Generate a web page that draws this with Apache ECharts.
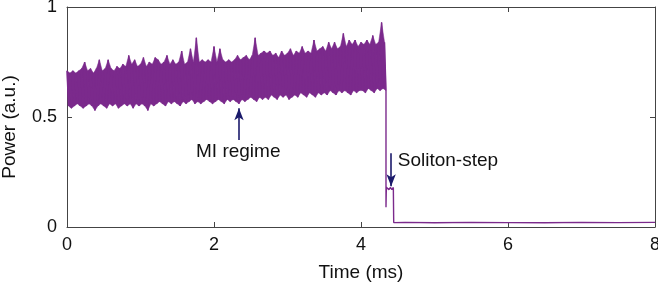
<!DOCTYPE html>
<html>
<head>
<meta charset="utf-8">
<script src="https://cdn.jsdelivr.net/npm/echarts@6/dist/echarts.min.js"></script>
<style>
  html, body { margin: 0; padding: 0; background: #fff; }
  #chart { width: 658px; height: 285px; }
</style>
</head>
<body>
<div id="chart"></div>
<script>
// MI regime band: upper peaks at bandTime, lower dips half a step later
const bandTime = [0, 0.04, 0.08, 0.12, 0.16, 0.2, 0.24, 0.28, 0.32, 0.36,
  0.4, 0.44, 0.48, 0.52, 0.56, 0.6, 0.64, 0.68, 0.72, 0.76,
  0.8, 0.84, 0.88, 0.92, 0.96, 1.0, 1.04, 1.08, 1.12, 1.16,
  1.2, 1.24, 1.28, 1.32, 1.36, 1.4, 1.44, 1.48, 1.52, 1.56,
  1.6, 1.64, 1.68, 1.72, 1.76, 1.8, 1.84, 1.88, 1.92, 1.96,
  2.0, 2.04, 2.08, 2.12, 2.16, 2.2, 2.24, 2.28, 2.32, 2.36,
  2.4, 2.44, 2.48, 2.52, 2.56, 2.6, 2.64, 2.68, 2.72, 2.76,
  2.8, 2.84, 2.88, 2.92, 2.96, 3.0, 3.04, 3.08, 3.12, 3.16,
  3.2, 3.24, 3.28, 3.32, 3.36, 3.4, 3.44, 3.48, 3.52, 3.56,
  3.6, 3.64, 3.68, 3.72, 3.76, 3.8, 3.84, 3.88, 3.92, 3.96,
  4.0, 4.04, 4.08, 4.12, 4.16, 4.2, 4.24, 4.28, 4.32]
const bandUpper = [0.71, 0.70, 0.71, 0.70, 0.71, 0.72, 0.75, 0.71, 0.72, 0.70,
  0.72, 0.76, 0.71, 0.72, 0.76, 0.72, 0.71, 0.73, 0.72, 0.74,
  0.73, 0.78, 0.74, 0.76, 0.73, 0.74, 0.77, 0.73, 0.75, 0.74,
  0.77, 0.76, 0.74, 0.75, 0.78, 0.74, 0.76, 0.74, 0.75, 0.80,
  0.74, 0.75, 0.81, 0.75, 0.86, 0.75, 0.76, 0.75, 0.76, 0.75,
  0.82, 0.75, 0.81, 0.76, 0.75, 0.76, 0.75, 0.76, 0.78, 0.76,
  0.77, 0.78, 0.76, 0.78, 0.86, 0.78, 0.79, 0.80, 0.79, 0.80,
  0.78, 0.79, 0.77, 0.80, 0.78, 0.79, 0.81, 0.78, 0.80, 0.79,
  0.82, 0.79, 0.80, 0.79, 0.85, 0.80, 0.81, 0.82, 0.80, 0.84,
  0.81, 0.84, 0.81, 0.82, 0.88, 0.82, 0.85, 0.83, 0.85, 0.82,
  0.84, 0.83, 0.85, 0.83, 0.87, 0.83, 0.84, 0.93, 0.84]
const bandLower = [0.55, 0.54, 0.55, 0.56, 0.55, 0.54, 0.55, 0.56, 0.55, 0.53,
  0.55, 0.56, 0.55, 0.54, 0.56, 0.55, 0.56, 0.54, 0.55, 0.56,
  0.55, 0.56, 0.54, 0.56, 0.55, 0.56, 0.55, 0.53, 0.56, 0.55,
  0.56, 0.57, 0.56, 0.55, 0.57, 0.56, 0.57, 0.56, 0.55, 0.57,
  0.56, 0.57, 0.58, 0.56, 0.57, 0.56, 0.57, 0.58, 0.57, 0.56,
  0.57, 0.58, 0.57, 0.56, 0.58, 0.57, 0.58, 0.57, 0.56, 0.58,
  0.57, 0.58, 0.59, 0.58, 0.57, 0.59, 0.58, 0.59, 0.58, 0.60,
  0.59, 0.58, 0.60, 0.59, 0.60, 0.58, 0.59, 0.60, 0.59, 0.61,
  0.60, 0.59, 0.61, 0.60, 0.59, 0.61, 0.60, 0.61, 0.60, 0.62,
  0.61, 0.60, 0.62, 0.61, 0.62, 0.61, 0.60, 0.62, 0.61, 0.62,
  0.62, 0.61, 0.63, 0.62, 0.61, 0.63, 0.62, 0.63, 0.62]
// drop, soliton step and the flat tail
const tailTime = [4.34, 4.345, 4.36, 4.38, 4.40, 4.42, 4.44, 4.445, 4.6, 5.0, 5.5, 6.0, 6.5, 7.0, 7.5, 8.0]
const tailPower = [0.09, 0.18, 0.18, 0.17, 0.18, 0.17, 0.18, 0.02, 0.021, 0.019, 0.021, 0.02, 0.019, 0.021, 0.02, 0.021]

const xTicks = [0, 2, 4, 6, 8]
const yTicks = [0, 0.5, 1]

// zigzag trace through the band, then the tail
const trace = []
bandTime.forEach(function (t, i) {
  trace.push([t, bandUpper[i]])
  trace.push([t + 0.02, bandLower[i]])
})
tailTime.forEach(function (t, i) {
  trace.push([t, tailPower[i]])
})
// one item per band segment: [t0, t1] for the custom fill
const bandFill = bandTime.slice(0, -1).map(function (t, i) { return [t, bandTime[i + 1]] })

const purple = '#7b2a8c'
const navy = '#1b1a6b'
const axisColor = '#444'
const font = 'Liberation Sans, Arial, sans-serif'

function renderBand (params, api) {
  const i = params.dataIndex
  const pts = [
    api.coord([bandTime[i], bandUpper[i]]),
    api.coord([bandTime[i + 1], bandUpper[i + 1]]),
    api.coord([bandTime[i + 1] + 0.02, bandLower[i + 1]]),
    api.coord([bandTime[i] + 0.02, bandLower[i]])
  ]
  return {
    type: 'polygon',
    shape: { points: pts },
    style: { fill: purple, stroke: purple, lineWidth: 0.5 }
  }
}

const chart = echarts.init(document.getElementById('chart'))
const boxAxis = {
  type: 'value',
  axisLine: { show: true, onZero: false, lineStyle: { color: axisColor, width: 1 } },
  axisTick: { show: true, inside: true, length: 5, lineStyle: { color: axisColor } },
  splitLine: { show: false }
}
chart.setOption({
  animation: false,
  grid: { left: 67, right: 3, top: 7, bottom: 58, outerBoundsMode: 'none', containLabel: false },
  xAxis: [
    Object.assign({}, boxAxis, {
      position: 'bottom', min: 0, max: 8, interval: 2,
      axisLabel: {
        color: '#111', fontSize: 18, fontFamily: font, margin: 9,
        formatter: function (v) { return xTicks.indexOf(v) >= 0 ? String(v) : '' }
      },
      name: 'Time (ms)', nameLocation: 'middle', nameGap: 36,
      nameTextStyle: { color: '#111', fontSize: 19, fontFamily: font }
    }),
    Object.assign({}, boxAxis, {
      position: 'top', min: 0, max: 8, interval: 2, axisLabel: { show: false }
    })
  ],
  yAxis: [
    Object.assign({}, boxAxis, {
      position: 'left', min: 0, max: 1, interval: 0.5,
      axisLabel: {
        color: '#111', fontSize: 18, fontFamily: font, margin: 10,
        formatter: function (v) { return yTicks.indexOf(v) >= 0 ? String(v) : '' }
      },
      name: 'Power (a.u.)', nameLocation: 'middle', nameGap: 48,
      nameTextStyle: { color: '#111', fontSize: 19, fontFamily: font, padding: [0, 20, 0, 0] }
    }),
    Object.assign({}, boxAxis, {
      position: 'right', min: 0, max: 1, interval: 0.5, axisLabel: { show: false }
    })
  ],
  series: [{
    type: 'custom',
    data: bandFill,
    renderItem: renderBand,
    silent: true,
    z: 1
  }, {
    type: 'line',
    data: trace,
    showSymbol: false,
    sampling: 'none',
    lineStyle: { color: purple, width: 1.4 },
    z: 2
  }, {
    // annotations
    type: 'line',
    data: [],
    z: 5,
    markLine: {
      silent: true,
      symbol: ['none', 'arrow'],
      symbolSize: [7, 12],
      label: { show: false },
      lineStyle: { color: navy, width: 1.6, type: 'solid' },
      data: [
        [{ coord: [2.34, 0.395] }, { coord: [2.34, 0.54] }],
        [{ coord: [4.41, 0.335] }, { coord: [4.41, 0.185] }]
      ]
    },
    markPoint: {
      silent: true,
      symbolSize: 0,
      label: { show: true, color: '#111', fontSize: 19, fontFamily: font },
      data: [
        { coord: [2.33, 0.34], label: { formatter: 'MI regime', position: 'inside' } },
        { coord: [4.5, 0.3], label: { formatter: 'Soliton-step', position: 'right', distance: 0 } }
      ]
    }
  }]
})
</script>
</body>
</html>
